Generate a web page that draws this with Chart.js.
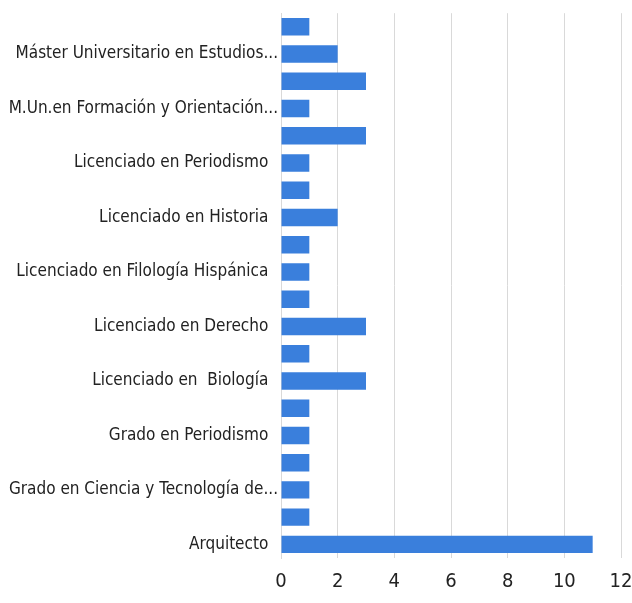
<!DOCTYPE html>
<html>
<head>
<meta charset="utf-8">
<script src="https://cdn.jsdelivr.net/npm/chart.js@4"></script>
<style>
  html, body { margin: 0; padding: 0; background: #fff; }
  #wrap { width: 632px; height: 603px; }
</style>
</head>
<body>
<div id="wrap"><canvas id="chart" width="632" height="603"></canvas></div>
<script>
// Categorias (de arriba a abajo); las vacías no llevan etiqueta en el original
const categories = [
  '',
  'Máster Universitario en Estudios...',
  '',
  'M.Un.en Formación y Orientación...',
  '',
  'Licenciado en Periodismo  ',
  '',
  'Licenciado en Historia  ',
  '',
  'Licenciado en Filología Hispánica  ',
  '',
  'Licenciado en Derecho  ',
  '',
  'Licenciado en  Biología  ',
  '',
  'Grado en Periodismo  ',
  '',
  'Grado en Ciencia y Tecnología de...',
  '',
  'Arquitecto  '
];
const values = [1, 2, 3, 1, 3, 1, 1, 2, 1, 1, 1, 3, 1, 3, 1, 1, 1, 1, 1, 11];
const xTicks = [0, 2, 4, 6, 8, 10, 12];

const font = "'Liberation Sans Narrow', 'DejaVu Sans Condensed', sans-serif";

new Chart(document.getElementById('chart').getContext('2d'), {
  type: 'bar',
  data: {
    labels: categories,
    datasets: [{
      data: values,
      backgroundColor: '#3a7fdc',
      borderWidth: 0,
      barPercentage: 0.64,
      categoryPercentage: 1
    }]
  },
  options: {
    indexAxis: 'y',
    responsive: false,
    animation: false,
    layout: { padding: { top: 12, right: 0, left: 0, bottom: 0 } },
    plugins: { legend: { display: false }, tooltip: { enabled: false } },
    scales: {
      x: {
        min: xTicks[0],
        max: xTicks[xTicks.length - 1],
        afterBuildTicks: s => { s.ticks = xTicks.map(v => ({ value: v })); },
        afterFit: s => { s.height = 45; s.paddingRight = 11; s.paddingLeft = 0; },
        grid: { color: '#d9d9d9', drawTicks: false },
        border: { display: false },
        ticks: { color: '#222', padding: 12, font: { family: font, size: 20 } }
      },
      y: {
        afterFit: s => { s.width = 281; },
        grid: { display: false, drawTicks: false },
        border: { display: true, color: '#d9d9d9' },
        ticks: { autoSkip: false, color: '#222', padding: 3, font: { family: font, size: 17 } }
      }
    }
  }
});
</script>
</body>
</html>
